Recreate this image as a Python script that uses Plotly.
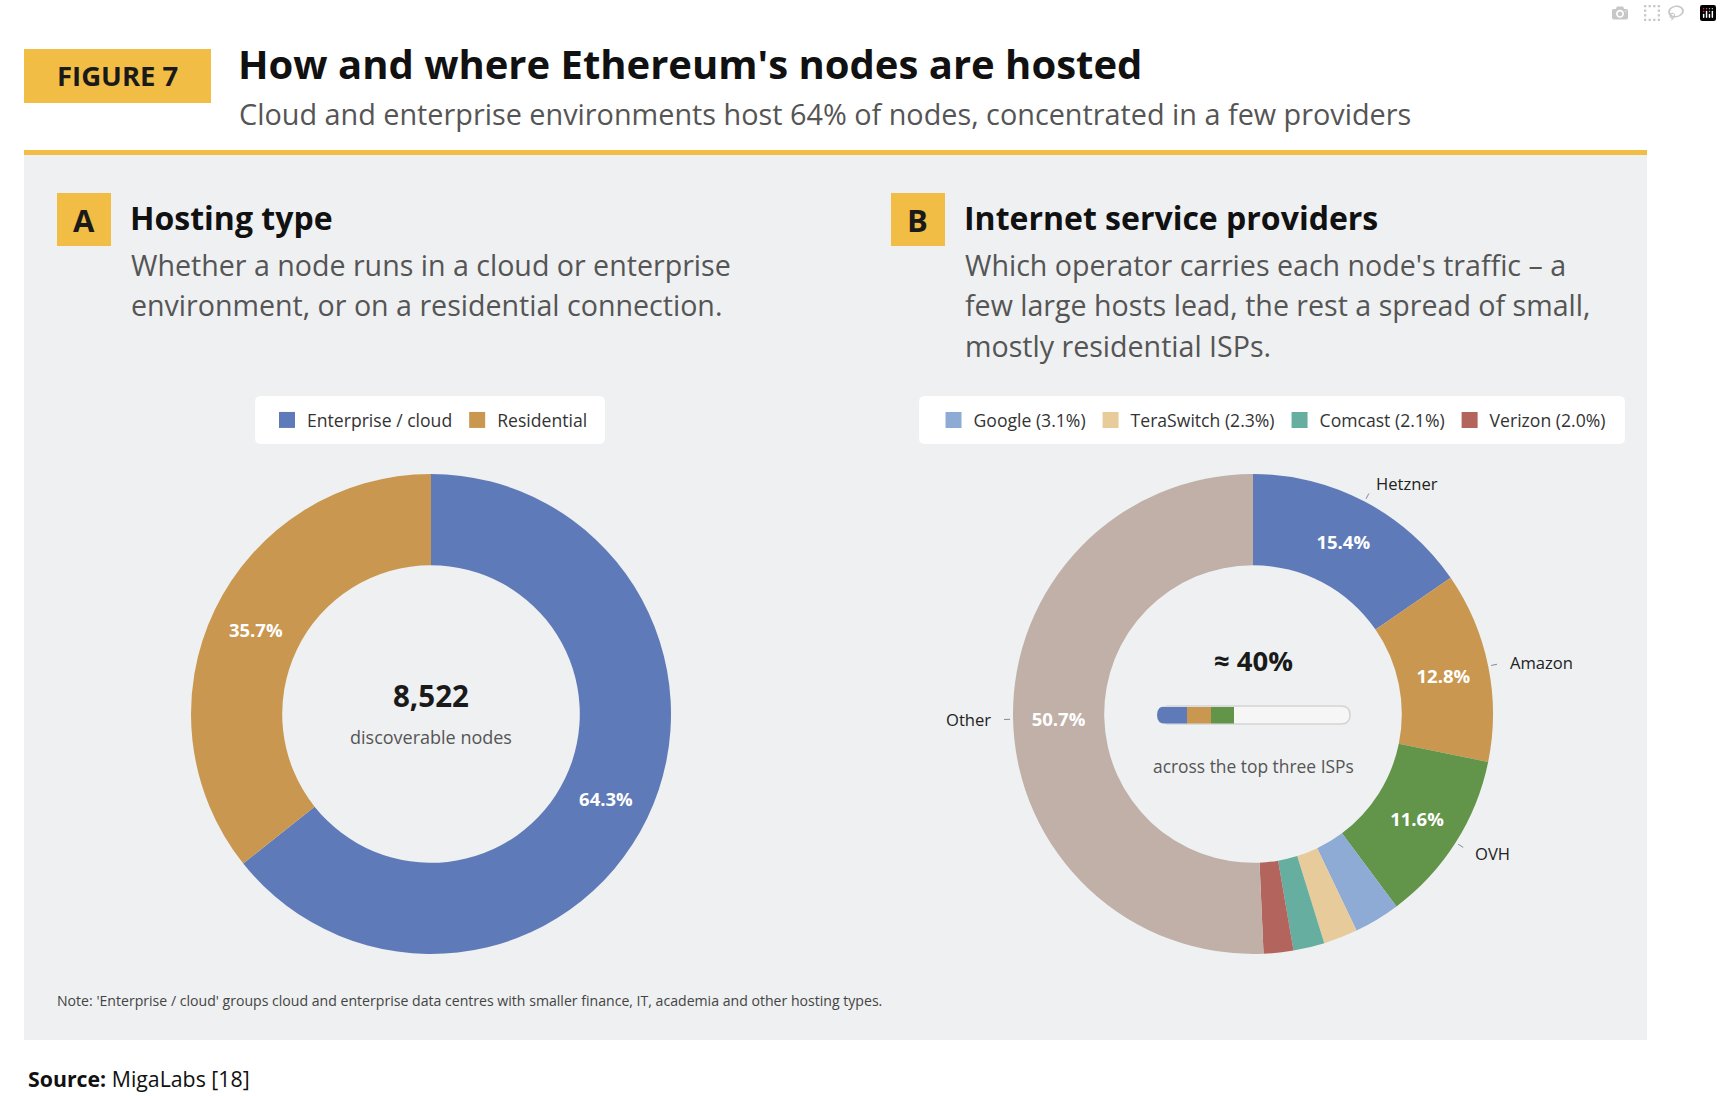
import math
import plotly.graph_objects as go

W, H = 1722, 1096
FONT = "'Open Sans', 'Noto Sans', sans-serif"

# ---------------- data ----------------
hosting_labels = ["Enterprise / cloud", "Residential"]
hosting_values = [64.3, 35.7]
hosting_colors = ["#5F7AB8", "#C9974F"]
total_nodes = 8522

isp_labels = ["Hetzner", "Amazon", "OVH", "Google", "TeraSwitch", "Comcast", "Verizon", "Other"]
isp_values = [15.4, 12.8, 11.6, 3.1, 2.3, 2.1, 2.0, 50.7]
isp_colors = ["#5F7AB8", "#C9974F", "#62944A", "#8DABD4", "#E8CB9B", "#66AFA0", "#B3645D", "#C0B0A7"]
top_isps = ["Hetzner", "Amazon", "OVH"]
legend_isps = ["Google", "TeraSwitch", "Comcast", "Verizon"]

fig_label = "FIGURE 7"
title = "How and where Ethereum's nodes are hosted"
subtitle = "Cloud and enterprise environments host 64% of nodes, concentrated in a few providers"
panel_a_title = "Hosting type"
panel_a_desc = ["Whether a node runs in a cloud or enterprise",
                "environment, or on a residential connection."]
panel_b_title = "Internet service providers"
panel_b_desc = ["Which operator carries each node's traffic \u2013 a",
                "few large hosts lead, the rest a spread of small,",
                "mostly residential ISPs."]
note = ("Note: 'Enterprise / cloud' groups cloud and enterprise data centres with smaller "
        "finance, IT, academia and other hosting types.")
source = "MigaLabs [18]"

# ---------------- helpers ----------------
def px(x):
    return x / W


def py(y):
    return 1 - y / H


YELLOW = "#F2BD45"
PANEL = "#EEF0F1"

CA = (431, 714)
CB = (1253, 714)
R = 240
HOLE = 0.62

fig = go.Figure()

# Pie A
fig.add_trace(go.Pie(
    labels=hosting_labels, values=hosting_values, hole=HOLE, sort=False,
    direction="clockwise", rotation=0,
    marker=dict(colors=hosting_colors, line=dict(width=0)),
    text=[f"{v:.1f}%" for v in hosting_values], textinfo="text",
    textposition="inside", insidetextorientation="horizontal",
    textfont=dict(family=FONT, size=18.5, color="white", weight="bold"),
    domain=dict(x=[px(CA[0] - R), px(CA[0] + R)], y=[py(CA[1] + R), py(CA[1] - R)]),
    showlegend=False, hoverinfo="label+value",
))

# Pie B
fig.add_trace(go.Pie(
    labels=isp_labels, values=isp_values, hole=HOLE, sort=False,
    direction="clockwise", rotation=0,
    marker=dict(colors=isp_colors, line=dict(width=0)),
    text=[f"{v:.1f}%" if v >= 5 else "" for v in isp_values], textinfo="text",
    textposition="inside", insidetextorientation="horizontal",
    textfont=dict(family=FONT, size=18.5, color="white", weight="bold"),
    domain=dict(x=[px(CB[0] - R), px(CB[0] + R)], y=[py(CB[1] + R), py(CB[1] - R)]),
    showlegend=False, hoverinfo="label+value",
))

# Progress bar of top three ISPs
for lab in top_isps:
    i = isp_labels.index(lab)
    fig.add_trace(go.Bar(
        x=[isp_values[i]], y=["share"], orientation="h",
        marker=dict(color=isp_colors[i], line=dict(width=0)),
        showlegend=False, hoverinfo="x+name", name=lab,
    ))

# Legend entries
for lab, val, col in zip(hosting_labels, hosting_values, hosting_colors):
    fig.add_trace(go.Scatter(
        x=[None], y=[None], mode="markers", name=lab, legend="legend",
        marker=dict(symbol="square", size=17, color=col),
    ))
for lab in legend_isps:
    i = isp_labels.index(lab)
    fig.add_trace(go.Scatter(
        x=[None], y=[None], mode="markers", name=f"{lab} ({isp_values[i]:.1f}%)",
        legend="legend2",
        marker=dict(symbol="square", size=17, color=isp_colors[i]),
    ))

shapes = []


def rounded(x0, x1, y0, y1, r, fill, line=None, layer="below"):
    path = (f"M {px(x0 + r)},{py(y0)} L {px(x1 - r)},{py(y0)} "
            f"Q {px(x1)},{py(y0)} {px(x1)},{py(y0 + r)} "
            f"L {px(x1)},{py(y1 - r)} "
            f"Q {px(x1)},{py(y1)} {px(x1 - r)},{py(y1)} "
            f"L {px(x0 + r)},{py(y1)} "
            f"Q {px(x0)},{py(y1)} {px(x0)},{py(y1 - r)} "
            f"L {px(x0)},{py(y0 + r)} "
            f"Q {px(x0)},{py(y0)} {px(x0 + r)},{py(y0)} Z")
    shapes.append(dict(type="path", xref="paper", yref="paper", layer=layer, path=path,
                       fillcolor=fill, line=line or dict(width=0)))


# panel background + yellow rule
shapes.append(dict(type="rect", xref="paper", yref="paper", layer="below",
                   x0=px(24), x1=px(1647), y0=py(1040), y1=py(155),
                   fillcolor=PANEL, line=dict(width=0)))
shapes.append(dict(type="rect", xref="paper", yref="paper", layer="below",
                   x0=px(24), x1=px(1647), y0=py(155), y1=py(150),
                   fillcolor=YELLOW, line=dict(width=0)))
# figure label box
shapes.append(dict(type="rect", xref="paper", yref="paper", layer="below",
                   x0=px(24), x1=px(211), y0=py(103), y1=py(49),
                   fillcolor=YELLOW, line=dict(width=0)))
# panel letter boxes
for x0 in (57, 891):
    shapes.append(dict(type="rect", xref="paper", yref="paper", layer="below",
                       x0=px(x0), x1=px(x0 + 54), y0=py(246), y1=py(193),
                       fillcolor=YELLOW, line=dict(width=0)))

# legend boxes
rounded(255, 605, 396, 444, 6, "white")
rounded(919, 1625, 396, 444, 6, "white")

# pill background of progress bar
bx0, bx1, by0, by1 = 1157, 1350, 706, 724
rr = (by1 - by0) / 2
rounded(bx0, bx1, by0, by1, rr, "#F6F6F6", dict(color="#D3D3D3", width=1.5))
# masks rounding the left end of the coloured segments
shapes.append(dict(type="path", xref="paper", yref="paper", layer="above",
                   path=(f"M {px(bx0 - 1)},{py(by0 - 1)} L {px(bx0 + rr)},{py(by0 - 1)} "
                         f"L {px(bx0 + rr)},{py(by0)} Q {px(bx0)},{py(by0)} {px(bx0)},{py(by0 + rr)} "
                         f"L {px(bx0 - 1)},{py(by0 + rr)} Z"),
                   fillcolor=PANEL, line=dict(width=0)))
shapes.append(dict(type="path", xref="paper", yref="paper", layer="above",
                   path=(f"M {px(bx0 - 1)},{py(by1 + 1)} L {px(bx0 + rr)},{py(by1 + 1)} "
                         f"L {px(bx0 + rr)},{py(by1)} Q {px(bx0)},{py(by1)} {px(bx0)},{py(by1 - rr)} "
                         f"L {px(bx0 - 1)},{py(by1 - rr)} Z"),
                   fillcolor=PANEL, line=dict(width=0)))

annotations = []


def ann(text, x, y, size, color="#1a1a1a", xanchor="left", yanchor="middle", bold=False):
    annotations.append(dict(
        text=f"<b>{text}</b>" if bold else text, x=px(x), y=py(y),
        xref="paper", yref="paper", showarrow=False, xanchor=xanchor, yanchor=yanchor,
        font=dict(family=FONT, size=size, color=color),
    ))


ann(fig_label, 117.5, 76, 27.5, "#1a1a1a", xanchor="center", bold=True)
ann(title, 236, 63, 40, "#111111", bold=True)
ann(subtitle, 237, 114, 28.8, "#555555")

ann("A", 83.5, 220, 31, "#1a1a1a", xanchor="center", bold=True)
ann(panel_a_title, 128, 218, 32, "#111111", bold=True)
for k, line in enumerate(panel_a_desc):
    ann(line, 129, 265 + 40 * k, 28.6, "#555555")

ann("B", 918, 220, 31, "#1a1a1a", xanchor="center", bold=True)
ann(panel_b_title, 962, 218, 32, "#111111", bold=True)
for k, line in enumerate(panel_b_desc):
    ann(line, 963, 265 + 40 * k, 28.6, "#555555")

# centre texts
ann(f"{total_nodes:,}", CA[0], 695, 29.5, "#1a1a1a", xanchor="center", bold=True)
ann("discoverable nodes", CA[0], 737, 18, "#555555", xanchor="center")
top_share = sum(isp_values[isp_labels.index(l)] for l in top_isps)
ann(f"\u2248 {round(top_share):d}%", CB[0], 660, 27.5, "#1a1a1a", xanchor="center", bold=True)
ann("across the top three ISPs", CB[0], 766, 17.4, "#555555", xanchor="center")

# outer labels with short leader ticks for the large ISP slices
cum = 0.0
for lab, v in zip(isp_labels, isp_values):
    mid = (cum + v / 2) / 100 * 2 * math.pi
    cum += v
    if v < 5:
        continue
    s, c = math.sin(mid), math.cos(mid)
    shapes.append(dict(type="line", xref="paper", yref="paper",
                       x0=px(CB[0] + (R + 3) * s), y0=py(CB[1] - (R + 3) * c),
                       x1=px(CB[0] + (R + 9) * s), y1=py(CB[1] - (R + 9) * c),
                       line=dict(color="#8a8a8a", width=1)))
    lx = CB[0] + (R + 20) * s
    ly = CB[1] - (R + 20) * c
    ann(lab, lx, ly, 16.6, "#222222", xanchor="left" if s >= 0 else "right")

ann(note, 55, 1000, 14.1, "#444444")
ann(f"<b>Source:</b> {source}", 26, 1078, 21.3, "#111111")

legend_common = dict(
    orientation="h", yanchor="middle", y=py(420), bgcolor="rgba(0,0,0,0)",
    borderwidth=0, font=dict(family=FONT, size=17.6, color="#333333"),
    itemclick=False, itemdoubleclick=False, traceorder="normal",
)

fig.update_layout(
    width=W, height=H, autosize=False,
    margin=dict(l=0, r=0, t=0, b=0, pad=0),
    paper_bgcolor="white", plot_bgcolor="rgba(0,0,0,0)",
    font=dict(family=FONT),
    barmode="stack", bargap=0,
    xaxis=dict(domain=[px(bx0), px(bx1)], range=[0, 100], visible=False, fixedrange=True),
    yaxis=dict(domain=[py(by1 - 0.5), py(by0 + 0.5)], visible=False, fixedrange=True),
    legend=dict(x=px(430), xanchor="center", **legend_common),
    legend2=dict(x=px(1272), xanchor="center", **legend_common),
    shapes=shapes, annotations=annotations,
    showlegend=True,
)

fig.write_html("out.html", post_script="document.body.style.margin='0';")
